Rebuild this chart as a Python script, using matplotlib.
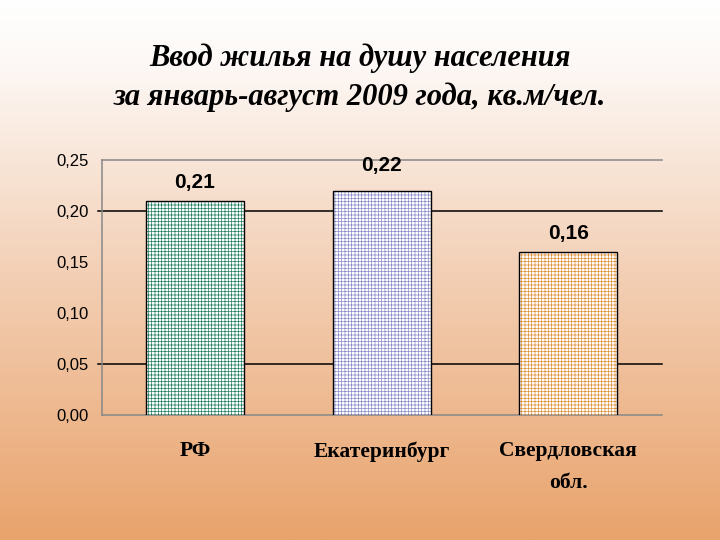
import matplotlib.pyplot as plt
import numpy as np
from matplotlib.colors import LinearSegmentedColormap

# данные
categories = ['РФ', 'Екатеринбург', 'Свердловская\nобл.']
values = [0.21, 0.22, 0.16]
value_labels = ['0,21', '0,22', '0,16']
hatch_colors = ['#1f7f5f', '#8a8ac8', '#e0913a']
yticks = [0.00, 0.05, 0.10, 0.15, 0.20, 0.25]
ytick_labels = ['0,00', '0,05', '0,10', '0,15', '0,20', '0,25']

# сдвиг подписей над столбцами (в пунктах)
label_offsets = [6.5, 11, 6.5]

plt.rcParams['hatch.linewidth'] = 0.5

fig = plt.figure(figsize=(7.2, 5.4), dpi=100)

# фон - градиент
bg = fig.add_axes([0, 0, 1, 1], zorder=-10)
cmap = LinearSegmentedColormap.from_list(
    'bg', [(0, '#ffffff'), (0.12, '#fdf8f5'), (0.5, '#f3d0b6'), (1, '#e9a36c')])
grad = np.linspace(0, 1, 256).reshape(-1, 1)
bg.imshow(grad, cmap=cmap, aspect='auto', extent=[0, 1, 0, 1], origin='upper')
bg.axis('off')

ax = fig.add_axes([0.141, 0.2315, 0.778, 0.4722])
ax.patch.set_alpha(0)
x = np.arange(len(categories))

# штриховка и контур
ax.bar(x, values, width=0.525, color='white', edgecolor=hatch_colors,
       hatch='+++++', linewidth=0, zorder=3)
ax.bar(x, values, width=0.525, color='none', edgecolor='black',
       linewidth=1.0, zorder=4)

for xi, v, lab, off in zip(x, values, value_labels, label_offsets):
    ax.annotate(lab, (xi, v), xytext=(0, off), textcoords='offset points',
                ha='center', va='bottom', fontsize=15, fontweight='bold',
                family='Liberation Sans', zorder=5)

# линии сетки
for yv in [0.20, 0.05]:
    ax.plot([-0.52, 2.5], [yv, yv], color='black', linewidth=1.1,
            zorder=1, clip_on=False)
for yv in [0.25, 0.00]:
    ax.plot([-0.5, 2.5], [yv, yv], color='#888888', linewidth=1.1,
            zorder=1, clip_on=False)

ax.set_xlim(-0.5, 2.5)
ax.set_ylim(0, 0.25)
for s in ['top', 'right', 'bottom']:
    ax.spines[s].set_visible(False)
ax.spines['left'].set_color('#888888')
ax.spines['left'].set_linewidth(1.1)

ax.set_yticks(yticks)
ax.set_yticklabels(ytick_labels, fontsize=12, family='Liberation Sans')
ax.tick_params(axis='y', length=0, pad=9.5)
ax.set_xticks(x)
ax.set_xticklabels(categories, fontsize=15.5, fontweight='bold',
                   family='Liberation Serif', linespacing=1.75)
ax.tick_params(axis='x', length=0, pad=19)

fig.text(0.5, 0.856, 'Ввод жилья на душу населения\nза январь-август 2009 года, кв.м/чел.',
         ha='center', va='center', fontsize=22, fontweight='bold',
         fontstyle='italic', family='Liberation Serif', linespacing=1.4)

plt.savefig('out.png', dpi=100)
